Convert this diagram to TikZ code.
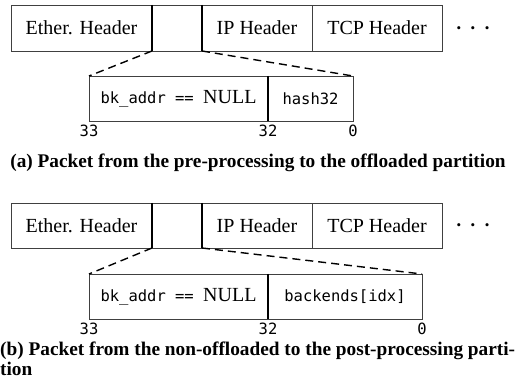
\documentclass[tikz,border=0pt]{standalone}
\usepackage{fontspec}
\setmainfont{Liberation Serif}
\setmonofont{DejaVu Sans Mono}
\begin{document}
\begin{tikzpicture}[x=1pt,y=-1pt,
  cell/.style={draw=black!75, line width=0.8pt, inner sep=0pt, outer sep=0pt, anchor=north west,
     font=\fontsize{20}{20}\selectfont},
  mono/.style={font=\fontsize{15.5}{15.5}\ttfamily},
  thick edge/.style={draw=black, line width=1.3pt},
  zoomline/.style={draw=black, line width=1.4pt, dash pattern=on 8pt off 5pt},
  bitlabel/.style={inner sep=0pt, font=\fontsize{15.5}{15.5}\ttfamily},
  dotsnode/.style={inner sep=0pt, anchor=base, font=\fontsize{13}{13}\selectfont},
  captext/.style={inner sep=0pt, font=\fontsize{19.3}{21}\selectfont\bfseries}]
\useasboundingbox (0,0) rectangle (525,390);
% ---------- (a) ----------
\node[cell, minimum width=141pt, minimum height=46pt] (ethA) at (11,5) {Ether. Header};
\node[cell, minimum width=50pt, minimum height=46pt] (gapA) at (152,5) {};
\node[cell, minimum width=110pt, minimum height=46pt] (ipA) at (202,5) {IP Header};
\node[cell, minimum width=130pt, minimum height=46pt] (tcpA) at (312,5) {TCP Header};
\node[dotsnode] (dotsA) at (473,33) {•\hspace{9.5pt}•\hspace{9.5pt}•};
\draw[thick edge] (gapA.north west) -- (gapA.south west);
\draw[thick edge] (gapA.north east) -- (gapA.south east);
\node[cell, minimum width=179pt, minimum height=45pt] (addrA) at (89,76) {\texttt{\fontsize{15.5}{15.5}\selectfont bk\_addr == }NULL};
\node[cell, minimum width=85pt, minimum height=45pt, mono] (hashA) at (268,76) {hash32};
\draw[thick edge] (hashA.north west) -- (hashA.south west);
\draw[zoomline] (gapA.south west) -- (addrA.north west);
\draw[zoomline] (gapA.south east) -- (hashA.north east);
\node[bitlabel] (b33A) at (89,131) {33};
\node[bitlabel] (b32A) at (268,131) {32};
\node[bitlabel] (b0A) at (353,131) {0};
\node[captext, anchor=base] (capA) at (258,168) {(a) Packet from the pre-processing to the offloaded partition};
% ---------- (b) ----------
\node[cell, minimum width=141pt, minimum height=45pt] (ethB) at (11,203) {Ether. Header};
\node[cell, minimum width=50pt, minimum height=45pt] (gapB) at (152,203) {};
\node[cell, minimum width=110pt, minimum height=45pt] (ipB) at (202,203) {IP Header};
\node[cell, minimum width=130pt, minimum height=45pt] (tcpB) at (312,203) {TCP Header};
\node[dotsnode] (dotsB) at (473,230) {•\hspace{9.5pt}•\hspace{9.5pt}•};
\draw[thick edge] (gapB.north west) -- (gapB.south west);
\draw[thick edge] (gapB.north east) -- (gapB.south east);
\node[cell, minimum width=179pt, minimum height=45pt] (addrB) at (89,274) {\texttt{\fontsize{15.5}{15.5}\selectfont bk\_addr == }NULL};
\node[cell, minimum width=154pt, minimum height=45pt, mono] (bkB) at (268,274) {backends[idx]};
\draw[thick edge] (bkB.north west) -- (bkB.south west);
\draw[zoomline] (gapB.south west) -- (addrB.north west);
\draw[zoomline] (gapB.south east) -- (bkB.north east);
\node[bitlabel] (b33B) at (89,329) {33};
\node[bitlabel] (b32B) at (268,329) {32};
\node[bitlabel] (b0B) at (422,329) {0};
\node[captext, anchor=base west] (capB) at (0,355) {(b) Packet from the non-offloaded to the post-processing parti-};
\node[captext, anchor=base west] (capB2) at (0,375) {tion};
\end{tikzpicture}
\end{document}
